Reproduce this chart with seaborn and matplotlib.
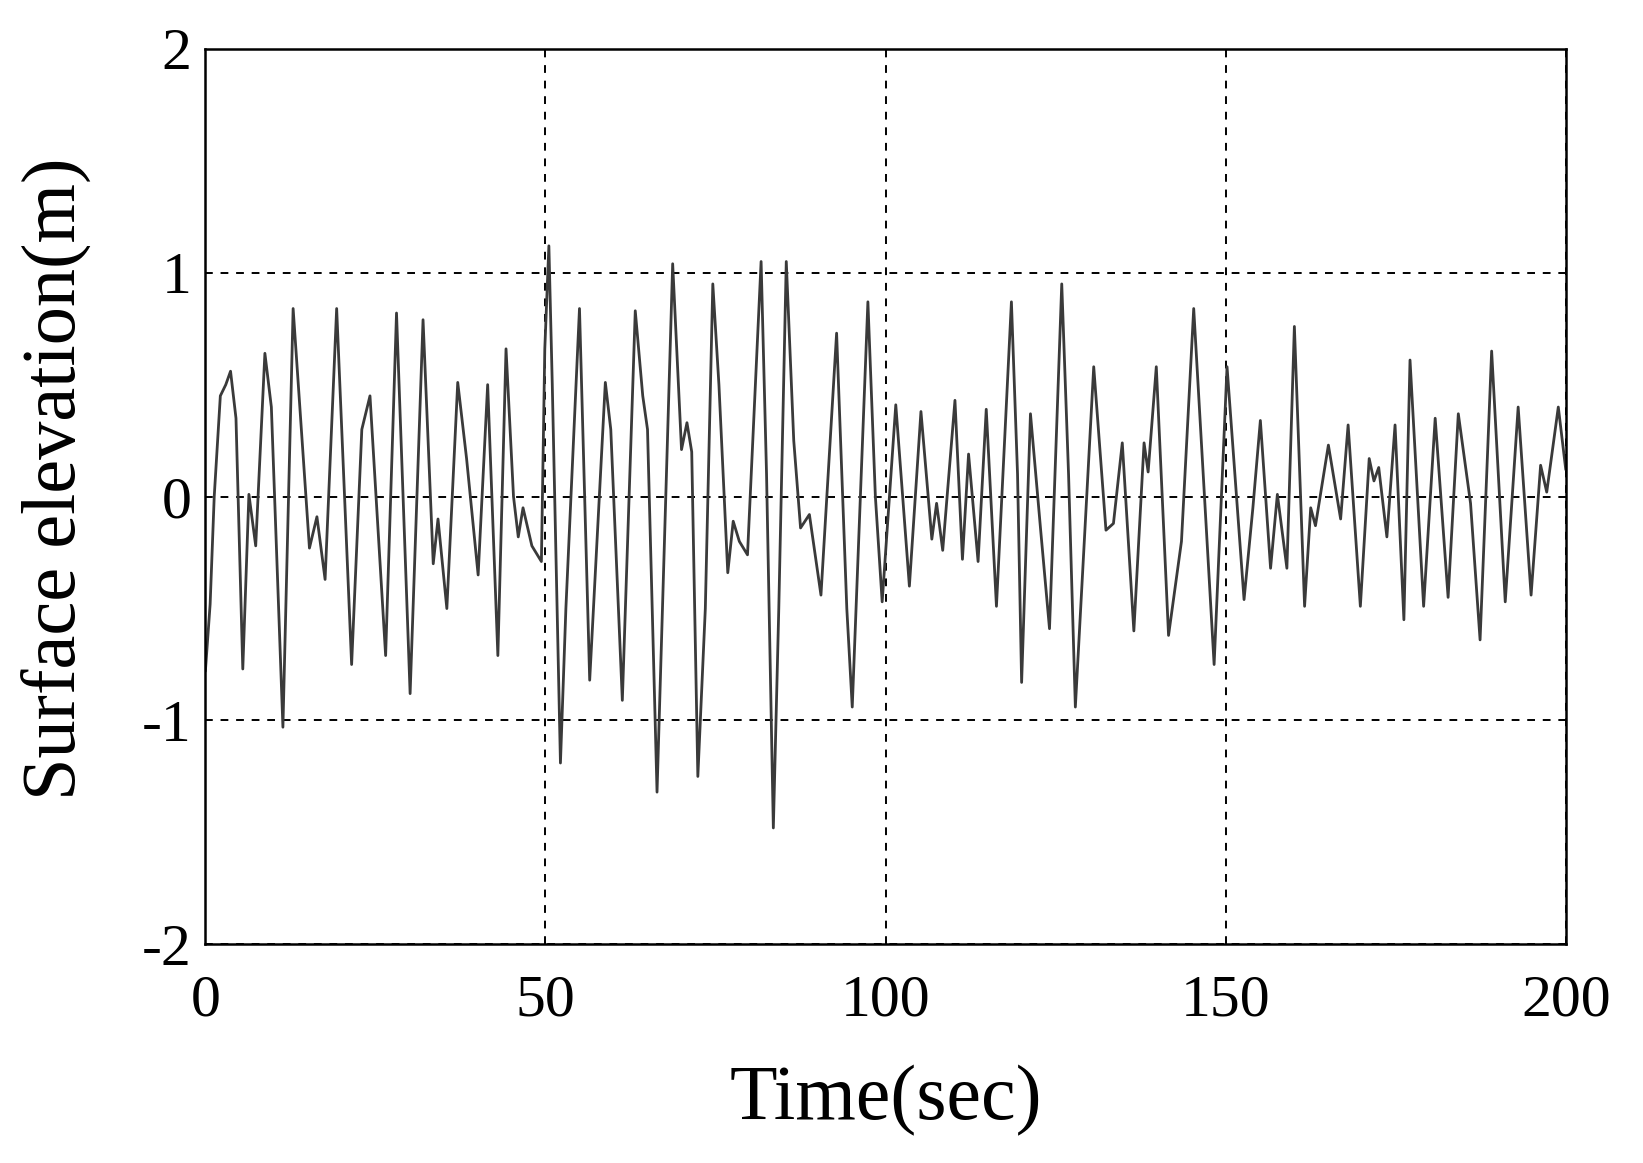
import matplotlib
matplotlib.use("Agg")
import matplotlib.pyplot as plt
import seaborn as sns
import pandas as pd

# Time (s) and surface elevation (m) (turning points)
time_s = [0, 0.7, 1.3, 2.2, 3.0, 3.7, 4.5, 5.5, 6.4, 7.4, 8.75, 9.7, 11.4, 12.9, 14.0,
          15.3, 16.4, 17.6, 19.3, 21.5, 23.0, 24.2, 26.5, 28.1, 30.1, 32.0, 33.5, 34.2,
          35.5, 37.1, 38.4, 40.1, 41.5, 43.0, 44.2, 45.3, 46.0, 46.7, 48.0, 49.4, 49.9,
          50.5, 51.0, 52.2, 53.0, 55.0, 56.5, 58.8, 59.6, 61.3, 63.2, 64.3, 65.0, 66.4,
          68.7, 70.0, 70.8, 71.5, 72.4, 73.5, 74.6, 75.5, 76.8, 77.6, 78.5, 79.7, 81.7,
          82.5, 83.5, 84.3, 85.4, 86.5, 87.5, 88.8, 90.5, 92.8, 94.3, 95.1, 97.4, 98.5,
          99.5, 101.5, 103.5, 105.2, 106.8, 107.5, 108.4, 110.2, 111.3, 112.2, 113.6,
          114.8, 116.3, 118.5, 119.4, 120.0, 121.3, 122.8, 124.1, 125.9, 126.9, 127.9,
          130.6, 132.4, 133.5, 134.8, 136.5, 138.0, 138.6, 139.8, 141.6, 143.5, 145.3,
          148.3, 150.2, 152.7, 154.0, 155.1, 156.6, 157.6, 159.0, 160.1, 161.6, 162.5,
          163.2, 165.1, 166.9, 168.0, 169.8, 171.1, 171.8, 172.5, 173.7, 174.9, 176.2,
          177.1, 179.1, 180.8, 182.7, 184.2, 186.0, 187.4, 189.1, 191.1, 193.0, 194.9,
          196.3, 197.2, 198.9, 200.0]
elevation_m = [-0.78, -0.48, 0.0, 0.45, 0.5, 0.56, 0.35, -0.77, 0.01, -0.22, 0.64, 0.4,
               -1.03, 0.84, 0.35, -0.23, -0.09, -0.37, 0.84, -0.75, 0.3, 0.45, -0.71,
               0.82, -0.88, 0.79, -0.3, -0.1, -0.5, 0.51, 0.17, -0.35, 0.5, -0.71, 0.66,
               0.0, -0.18, -0.05, -0.22, -0.29, 0.66, 1.12, 0.5, -1.19, -0.5, 0.84, -0.82,
               0.51, 0.3, -0.91, 0.83, 0.45, 0.3, -1.32, 1.04, 0.21, 0.33, 0.2, -1.25,
               -0.5, 0.95, 0.5, -0.34, -0.11, -0.2, -0.26, 1.05, 0.1, -1.48, -0.5, 1.05,
               0.25, -0.14, -0.08, -0.44, 0.73, -0.5, -0.94, 0.87, 0.0, -0.47, 0.41,
               -0.40, 0.38, -0.19, -0.03, -0.24, 0.43, -0.28, 0.19, -0.29, 0.39, -0.49,
               0.87, 0.1, -0.83, 0.37, -0.15, -0.59, 0.95, 0.1, -0.94, 0.58, -0.15,
               -0.12, 0.24, -0.6, 0.24, 0.11, 0.58, -0.62, -0.2, 0.84, -0.75, 0.58,
               -0.46, -0.05, 0.34, -0.32, 0.01, -0.32, 0.76, -0.49, -0.05, -0.13, 0.23,
               -0.1, 0.32, -0.49, 0.17, 0.07, 0.13, -0.18, 0.32, -0.55, 0.61, -0.49,
               0.35, -0.45, 0.37, -0.03, -0.64, 0.65, -0.47, 0.40, -0.44, 0.14, 0.02,
               0.40, 0.12]

x_ticks = [0, 50, 100, 150, 200]
y_ticks = [-2, -1, 0, 1, 2]

df = pd.DataFrame({"t": time_s, "eta": elevation_m})

sns.set_style("white")
plt.rcParams["font.family"] = ["Liberation Serif", "DejaVu Serif"]
plt.rcParams["axes.unicode_minus"] = False
plt.rcParams["text.color"] = "black"
plt.rcParams["axes.labelcolor"] = "black"

fig = plt.figure(figsize=(16.43, 11.63), dpi=100)
ax = fig.add_axes([0.125, 0.188, 0.828, 0.770])

sns.lineplot(data=df, x="t", y="eta", ax=ax, color="#3a3a3a", linewidth=2.0,
             estimator=None, sort=False)

ax.set_xlim(0, 200)
ax.set_ylim(-2, 2)
ax.set_xticks(x_ticks)
ax.set_yticks(y_ticks)
ax.set_xticklabels([str(v) for v in x_ticks])
ax.set_yticklabels([str(v) for v in y_ticks])

ax.grid(True, color="black", linestyle=(0, (4, 4)), linewidth=1.4)
for s in ax.spines.values():
    s.set_color("black")
    s.set_linewidth(1.8)

ax.tick_params(axis="both", direction="in", length=0, labelsize=43, colors="black")
ax.tick_params(axis="x", pad=22)
ax.tick_params(axis="y", pad=10)

ax.set_xlabel("Time(sec)", fontsize=56, labelpad=26, color="black")
ax.set_ylabel("Surface elevation(m)", fontsize=55, color="black")
ax.yaxis.set_label_coords(-0.083, 0.52)

fig.savefig("out.png", dpi=100)
